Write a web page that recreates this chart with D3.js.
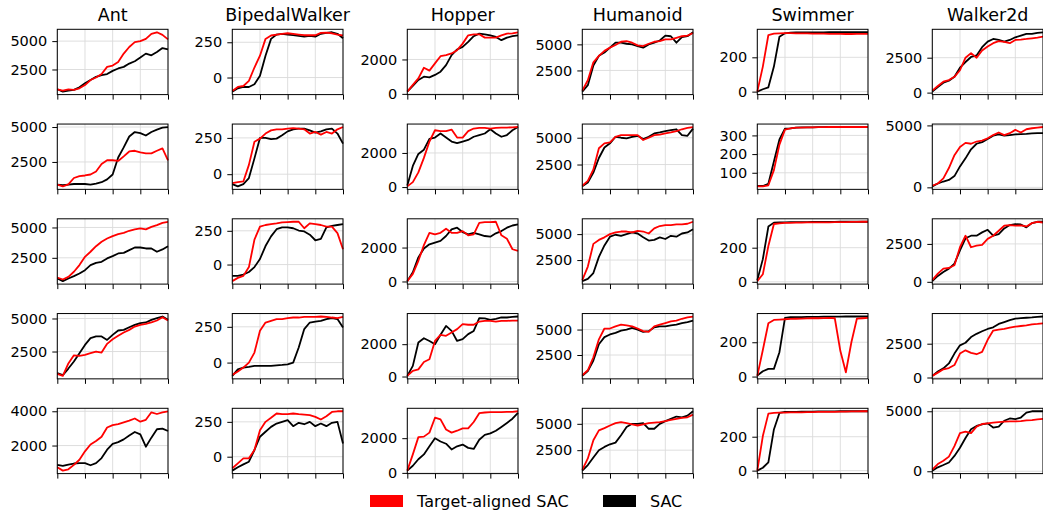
<!DOCTYPE html>
<html>
<head>
<meta charset="utf-8">
<script src="https://cdn.jsdelivr.net/npm/d3@7"></script>
<style>
  body { margin: 0; background: #fff; }
  svg text { font-family: "DejaVu Sans", sans-serif; fill: #000; }
</style>
</head>
<body>
<svg id="chart" width="1043" height="514"></svg>
<script>
// environments, one column each
const envs = ["Ant", "BipedalWalker", "Hopper", "Humanoid", "Swimmer", "Walker2d"];
// training progress, 21 evenly spaced checkpoints from 0 to 1
const steps = d3.range(21).map(i => i / 20);
const xTicks = [0, 0.25, 0.5, 0.75, 1];

// returns per seed (rows 1-5): red = Target-aligned SAC, black = SAC
const antRed = [
  [756, 640, 750, 700, 840, 1130, 1570, 1800, 2100, 2730, 2850, 3170, 3900, 4480, 4910, 5000, 5200, 5640, 5780, 5550, 5150],
  [874, 750, 900, 1350, 1480, 1530, 1600, 1820, 2350, 2620, 2620, 2570, 2900, 3250, 3300, 3180, 3110, 3110, 3300, 3470, 2620],
  [880, 715, 935, 1350, 1900, 2580, 3000, 3460, 3820, 4090, 4290, 4450, 4560, 4730, 4840, 4920, 4840, 5050, 5190, 5380, 5470],
  [810, 655, 1600, 2210, 2170, 2250, 2370, 2500, 2420, 3080, 3430, 3690, 3940, 4140, 4390, 4520, 4600, 4700, 4850, 5100, 4850],
  [730, 535, 615, 870, 1170, 1660, 2060, 2260, 2510, 3050, 3190, 3250, 3350, 3450, 3580, 3390, 3500, 3940, 3840, 3940, 4000]
];
const antBlack = [
  [756, 550, 640, 700, 930, 1280, 1570, 1860, 2000, 2100, 2380, 2590, 2730, 3020, 3230, 3550, 3900, 3750, 4040, 4390, 4270],
  [874, 830, 874, 920, 920, 920, 874, 950, 1050, 1250, 1600, 2820, 3540, 4320, 4640, 4560, 4390, 4640, 4810, 4950, 5000],
  [800, 580, 800, 990, 1210, 1480, 1900, 2090, 2170, 2450, 2640, 2860, 2910, 3130, 3350, 3350, 3270, 3270, 3000, 3190, 3460],
  [860, 710, 1210, 1740, 2370, 3000, 3510, 3640, 3640, 3380, 3760, 4090, 4140, 4340, 4520, 4650, 4700, 4900, 5030, 5150, 4900],
  [870, 810, 890, 950, 970, 970, 850, 970, 1270, 1760, 2100, 2200, 2360, 2590, 2790, 2650, 1930, 2460, 2950, 2990, 2850]
];
const bipedalRed = [
  [-95, -67, -60, -24, 71, 155, 274, 298, 305, 310, 314, 310, 305, 300, 300, 300, 317, 319, 314, 305, 298],
  [-61, -55, -50, 64, 223, 245, 280, 302, 309, 309, 314, 318, 314, 309, 280, 291, 273, 291, 280, 309, 325],
  [-123, -99, -84, -19, 185, 281, 293, 300, 305, 312, 315, 317, 317, 269, 305, 300, 293, 281, 281, 233, 113],
  [-86, -63, -35, 0, 70, 222, 280, 292, 304, 304, 311, 315, 315, 320, 320, 320, 322, 320, 315, 311, 320],
  [-83, -48, -12, -12, 48, 190, 250, 279, 310, 305, 305, 310, 305, 302, 298, 286, 267, 290, 321, 326, 326]
];
const bipedalBlack = [
  [-100, -76, -67, -67, -48, 12, 155, 274, 305, 310, 305, 300, 295, 290, 295, 290, 310, 317, 321, 310, 279],
  [-68, -84, -68, -27, 109, 250, 250, 241, 245, 268, 295, 309, 314, 314, 302, 286, 295, 309, 314, 280, 211],
  [-84, -84, -74, -55, -19, 41, 137, 209, 262, 276, 276, 269, 252, 245, 221, 180, 190, 276, 286, 293, 300],
  [-93, -47, -35, -30, -23, -23, -23, -23, -19, -16, -12, 0, 105, 234, 280, 287, 292, 304, 311, 304, 245],
  [-100, -76, -55, -36, 48, 143, 179, 214, 238, 250, 262, 219, 243, 233, 250, 219, 238, 219, 243, 250, 95]
];
const hopperRed = [
  [130, 520, 900, 1520, 1350, 1770, 2190, 2250, 2350, 2540, 2920, 3400, 3460, 3460, 3270, 3270, 3270, 3400, 3500, 3520, 3580],
  [40, 290, 860, 1710, 2670, 3330, 3280, 3280, 3370, 2900, 2900, 3280, 3430, 3470, 3470, 3430, 3470, 3490, 3490, 3500, 3520],
  [20, 450, 1220, 2140, 2870, 2780, 2870, 3110, 2870, 2870, 2970, 2720, 2780, 3460, 3500, 3500, 3520, 2720, 2520, 1900, 1810],
  [40, 350, 440, 900, 1070, 2200, 2570, 2520, 2720, 2930, 3240, 3200, 3200, 3400, 3440, 3440, 3400, 3440, 3440, 3460, 3460],
  [130, 1065, 2060, 2090, 2320, 3180, 3080, 2500, 2320, 2430, 2560, 2560, 2930, 3440, 3480, 3500, 3500, 3500, 3510, 3510, 3550]
];
const hopperBlack = [
  [135, 460, 810, 1000, 960, 1100, 1290, 1670, 2250, 2580, 2730, 3020, 3350, 3500, 3460, 3400, 3310, 3120, 3270, 3350, 3400],
  [95, 1240, 1940, 2190, 2820, 2900, 3140, 2900, 2670, 2570, 2670, 2760, 2950, 3050, 3140, 3390, 3140, 2950, 3050, 3330, 3520],
  [20, 540, 1420, 1940, 2190, 2290, 2390, 2680, 3070, 3170, 2910, 2780, 2870, 2780, 2680, 2640, 2840, 2970, 3170, 3300, 3360],
  [40, 660, 2100, 2370, 2200, 2000, 2580, 3130, 2820, 2200, 2310, 2620, 2820, 3610, 3590, 3500, 3570, 3650, 3650, 3690, 3710],
  [130, 410, 785, 1065, 1530, 2000, 1810, 1680, 1350, 1530, 1630, 1440, 1380, 1910, 2190, 2280, 2430, 2650, 2880, 3120, 3460]
];
const humanoidRed = [
  [560, 1560, 3280, 3900, 4375, 4690, 4940, 5250, 5310, 5160, 4900, 4840, 5060, 5250, 5310, 5470, 5470, 5620, 5780, 5840, 6090],
  [520, 975, 2040, 4020, 4480, 4570, 5090, 5240, 5240, 5240, 5240, 4790, 5000, 5240, 5300, 5400, 5490, 5610, 5790, 5910, 6000],
  [560, 1875, 4060, 4440, 4690, 5000, 5160, 5250, 5250, 5160, 5310, 5250, 5060, 5560, 5780, 5875, 5875, 5940, 5940, 6000, 6190],
  [510, 1000, 2280, 4040, 5100, 5100, 5320, 5480, 5420, 5320, 5100, 4840, 4780, 5320, 5480, 5640, 5800, 5870, 6060, 6190, 6280],
  [625, 1720, 3440, 4375, 4590, 4840, 5060, 5160, 5060, 4940, 4840, 4940, 5060, 5120, 5160, 5250, 5370, 5470, 5560, 5620, 5875]
];
const humanoidBlack = [
  [470, 1090, 2970, 3900, 4220, 4690, 5160, 5160, 5060, 5000, 4840, 4690, 5000, 5160, 5370, 5840, 5780, 5160, 5690, 5780, 6160],
  [460, 820, 1740, 3110, 4090, 4480, 5090, 5000, 4940, 5090, 5180, 4880, 5090, 5400, 5490, 5610, 5700, 5790, 5240, 5180, 5850],
  [470, 690, 1250, 2810, 3910, 4750, 4940, 4840, 5000, 5160, 5060, 4690, 4380, 4440, 4690, 4530, 4840, 4750, 5060, 5160, 5470],
  [450, 930, 1960, 3560, 4260, 4520, 4680, 4900, 5000, 5160, 5000, 4780, 4840, 5220, 5320, 5320, 5420, 5480, 5640, 5740, 5870],
  [560, 1090, 1810, 2500, 2810, 3060, 3220, 3910, 4690, 5000, 5000, 5060, 4530, 4530, 5000, 5250, 5470, 5690, 5620, 5780, 6190]
];
const swimmerRed = [
  [0, 146, 330, 338, 340, 341, 341, 340, 339, 339, 338, 338, 338, 337, 337, 337, 336, 336, 337, 337, 337],
  [27, 27, 33, 114, 251, 331, 338, 342, 342, 343, 343, 344, 344, 345, 345, 345, 345, 345, 345, 345, 345],
  [4, 44, 210, 339, 343, 345, 346, 347, 347, 348, 348, 349, 349, 349, 350, 350, 350, 351, 351, 352, 352],
  [4, 155, 311, 330, 332, 334, 336, 337, 338, 339, 340, 340, 341, 342, 340, 150, 25, 200, 338, 340, 342],
  [0, 204, 336, 340, 342, 342, 344, 344, 344, 345, 345, 346, 346, 347, 347, 348, 348, 349, 349, 350, 350]
];
const swimmerBlack = [
  [0, 14, 25, 146, 320, 340, 344, 345, 345, 345, 345, 345, 345, 346, 346, 346, 346, 346, 346, 346, 346],
  [29, 29, 41, 160, 278, 336, 338, 342, 343, 343, 343, 344, 344, 345, 345, 345, 345, 345, 345, 345, 345],
  [10, 133, 324, 347, 349, 349, 350, 350, 350, 350, 351, 351, 351, 351, 351, 352, 352, 352, 352, 352, 352],
  [6, 31, 45, 45, 142, 342, 346, 347, 347, 348, 348, 348, 349, 349, 349, 349, 350, 350, 350, 350, 350],
  [0, 17, 49, 243, 340, 346, 347, 347, 348, 348, 348, 349, 349, 349, 349, 350, 350, 350, 350, 350, 350]
];
const walkerRed = [
  [140, 470, 780, 900, 1130, 1600, 2500, 2830, 2500, 3020, 3300, 3540, 3680, 3630, 3540, 3770, 3800, 3840, 3890, 3940, 4010],
  [130, 310, 730, 1560, 2600, 3260, 3590, 3520, 3700, 3780, 3960, 4220, 4430, 4220, 4370, 4640, 4430, 4690, 4770, 4820, 4870],
  [110, 540, 870, 910, 1090, 2280, 3040, 2280, 2390, 2430, 2830, 3040, 3370, 3700, 3740, 3700, 3720, 3650, 3870, 3960, 3910],
  [120, 360, 610, 700, 920, 1770, 2010, 1820, 1720, 1890, 2790, 3470, 3540, 3590, 3690, 3760, 3810, 3860, 3930, 3960, 4000],
  [136, 600, 870, 1220, 2090, 3180, 3310, 3180, 3720, 3940, 3990, 4050, 4100, 4130, 4160, 4160, 4180, 4240, 4270, 4320, 4370]
];
const walkerBlack = [
  [70, 400, 710, 850, 1130, 1780, 2190, 2550, 2660, 3250, 3650, 3840, 3770, 3650, 3770, 3960, 4080, 4200, 4200, 4270, 4320],
  [78, 310, 470, 600, 910, 1690, 2340, 3070, 3520, 3650, 3910, 4170, 4270, 4170, 4220, 4270, 4300, 4320, 4350, 4370, 4370],
  [45, 390, 650, 870, 1200, 2070, 2870, 3040, 3040, 3260, 3430, 3040, 3150, 3520, 3740, 3800, 3780, 3590, 3870, 3960, 3960],
  [120, 440, 680, 1040, 1770, 2380, 2570, 2990, 3230, 3420, 3590, 3710, 3960, 4100, 4250, 4350, 4390, 4420, 4440, 4490, 4510],
  [54, 330, 520, 730, 1280, 1960, 2770, 3500, 3780, 3910, 3990, 3640, 3720, 4210, 4400, 4350, 4480, 4890, 5000, 5000, 5000]
];

// y tick labels per panel
const antTicks = [[2500, 5000], [2500, 5000], [2500, 5000], [2500, 5000], [2000, 4000]];
const bipedalTicks = [[0, 250], [0, 250], [0, 250], [0, 250], [0, 250]];
const hopperTicks = [[0, 2000], [0, 2000], [0, 2000], [0, 2000], [0, 2000]];
const humanoidTicks = [[2500, 5000], [2500, 5000], [2500, 5000], [2500, 5000], [2500, 5000]];
const swimmerTicks = [[0, 200], [100, 200, 300], [0, 200], [0, 200], [0, 200]];
const walkerTicks = [[0, 2500], [0, 5000], [0, 2500], [0, 2500], [0, 5000]];

const columns = [
  { red: antRed, black: antBlack, ticks: antTicks },
  { red: bipedalRed, black: bipedalBlack, ticks: bipedalTicks },
  { red: hopperRed, black: hopperBlack, ticks: hopperTicks },
  { red: humanoidRed, black: humanoidBlack, ticks: humanoidTicks },
  { red: swimmerRed, black: swimmerBlack, ticks: swimmerTicks },
  { red: walkerRed, black: walkerBlack, ticks: walkerTicks }
];

const svg = d3.select("#chart");
const left0 = 57.3, colStep = 175, pw = 110.7;
const top0 = 29.3, rowStep = 94.75, ph = 65.3;

const x = d3.scaleLinear().domain([0, 1]).range([0, pw]);

columns.forEach((col, c) => {
  const gx = left0 + c * colStep;

  svg.append("text")
    .attr("x", gx + pw / 2)
    .attr("y", 21)
    .attr("text-anchor", "middle")
    .attr("font-size", "17.5px")
    .text(envs[c]);

  for (let r = 0; r < 5; r++) {
    const red = col.red[r], black = col.black[r];
    const all = red.concat(black);
    const lo = d3.min(all), hi = d3.max(all), pad = (hi - lo) * 0.05;
    const y = d3.scaleLinear().domain([lo - pad, hi + pad]).range([ph, 0]);

    const g = svg.append("g")
      .attr("transform", `translate(${gx},${top0 + r * rowStep})`);

    // grid
    g.append("g").selectAll("line")
      .data(xTicks).enter().append("line")
      .attr("x1", d => x(d)).attr("x2", d => x(d))
      .attr("y1", 0).attr("y2", ph)
      .attr("stroke", "#dadada").attr("stroke-width", 0.9);
    g.append("g").selectAll("line")
      .data(col.ticks[r]).enter().append("line")
      .attr("x1", 0).attr("x2", pw)
      .attr("y1", d => y(d)).attr("y2", d => y(d))
      .attr("stroke", "#dadada").attr("stroke-width", 0.9);

    const line = d3.line().x((d, i) => x(steps[i])).y(d => y(d));

    g.append("path").datum(black)
      .attr("d", line).attr("fill", "none")
      .attr("stroke", "#000").attr("stroke-width", 1.8)
      .attr("stroke-linejoin", "round");
    g.append("path").datum(red)
      .attr("d", line).attr("fill", "none")
      .attr("stroke", "#ff0000").attr("stroke-width", 1.8)
      .attr("stroke-linejoin", "round");

    // axes
    const ax = g.append("g").attr("transform", `translate(0,${ph})`)
      .call(d3.axisBottom(x).tickValues(xTicks).tickFormat("").tickSize(5));
    const ay = g.append("g")
      .call(d3.axisLeft(y).tickValues(col.ticks[r]).tickFormat(d3.format("d")).tickSize(5).tickPadding(5));
    [ax, ay].forEach(a => {
      a.select(".domain").remove();
      a.selectAll("line").attr("stroke", "#000").attr("stroke-width", 1);
      a.selectAll("text").attr("font-size", "14.5px").attr("font-family", "DejaVu Sans").attr("fill", "#000");
    });

    g.append("rect")
      .attr("width", pw).attr("height", ph)
      .attr("fill", "none").attr("stroke", "#000").attr("stroke-width", 1);
  }
});

// legend
const legend = [
  { label: "Target-aligned SAC", color: "#ff0000", x: 370 },
  { label: "SAC", color: "#000000", x: 603 }
];
legend.forEach(d => {
  svg.append("rect").attr("x", d.x).attr("y", 495).attr("width", 33).attr("height", 12).attr("fill", d.color);
  svg.append("text").attr("x", d.x + 47).attr("y", 506.5).attr("font-size", "16px").text(d.label);
});
</script>
</body>
</html>
